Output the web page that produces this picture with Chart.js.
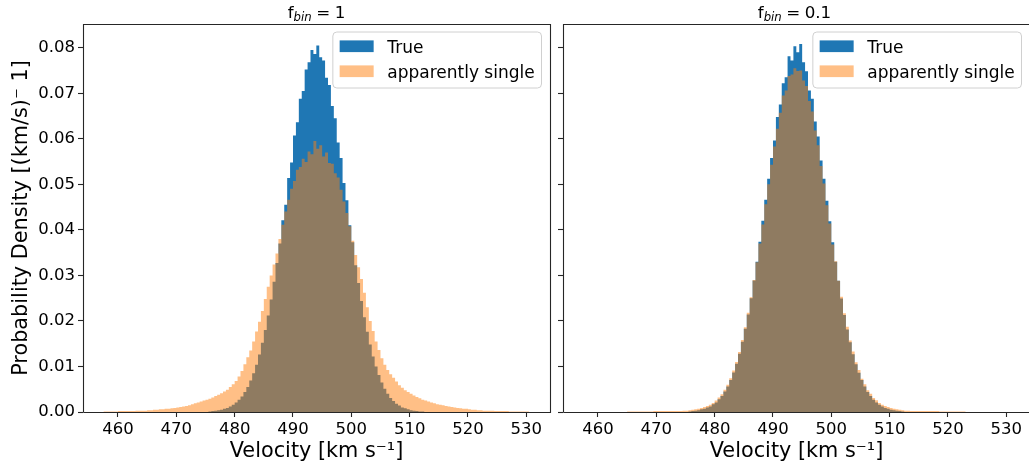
<!DOCTYPE html>
<html><head><meta charset="utf-8">
<script src="https://cdn.jsdelivr.net/npm/chart.js@4.4.1/dist/chart.umd.min.js"></script>
<style>
html,body{margin:0;padding:0;background:#fff;overflow:hidden;width:1029px;height:465px;}
#wrapL{position:absolute;left:0;top:0;width:556px;height:465px;}
#wrapR{position:absolute;left:556px;top:0;width:474px;height:465px;}
canvas{display:block;}
</style></head><body>
<div id="wrapL"><canvas id="cL" width="556" height="465"></canvas></div>
<div id="wrapR"><canvas id="cR" width="474" height="465"></canvas></div>
<script>
// ---- histogram bin grid (left edges start here, constant width) ----
const binStart = 457.5;
const binWidth = 0.5;

// ---- tick labels ----
const xTicks = [460, 470, 480, 490, 500, 510, 520, 530];
const yTicks = [0.00, 0.01, 0.02, 0.03, 0.04, 0.05, 0.06, 0.07, 0.08];
const xLabel = 'Velocity [km s\u207B\u00B9]';
const yLabel = 'Probability Density [(km/s)\u207B 1]';
const legendLabels = ['True', 'apparently single'];
const titleLeft = ['f', 'bin', '=', '1'];
const titleRight = ['f', 'bin', '=', '0.1'];

// ---- series (probability density per bin, 146 bins) ----
const leftTrue = [
0,0,0,0,0,0,0,0,0, 0,0,0,0,0,0,0,0,0, 0,0,0,0,0,0,0,0,0, 0,0,0,0,0,0,0,0,0,
0.0001,0.0002,0.0003,0.0004,0.0005,0.0007,0.0009,0.0012,0.0016,0.0021,0.0027,0.0034,0.0044,0.0055,0.0069,0.0085,0.0104,0.0126,0.0152,0.0180,0.0212,0.0247,0.0286,0.0327,0.0370,0.0421,0.0455,0.0514,0.0548,0.0607,0.0636,0.0688,0.0705,0.0752,0.0768,0.0795,0.0786,
0.0805,0.0779,0.0772,0.0734,0.0718,0.0672,0.0645,0.0592,0.0558,0.0503,0.0465,0.0410,0.0373,0.0322,0.0283,0.0244,0.0208,0.0176,0.0148,0.0122,0.0100,0.0081,0.0065,0.0051,0.0040,0.0031,0.0024,0.0018,0.0014,0.0010,0.0008,0.0006,0.0004,0.0003,0.0002,0.0001,0.0001,
0,0,0,0,0,0,0,0,0, 0,0,0,0,0,0,0,0,0, 0,0,0,0,0,0,0,0,0, 0,0,0,0,0,0,0,0,0
];
const leftSingle = [
0.0001,0.0001,0.0001,0.0001,0.0001,0.0002,0.0002,0.0002,0.0002,0.0002,0.0002,0.0003,0.0003,0.0003,0.0003,0.0004,0.0004,0.0005,0.0005,0.0006,0.0006,0.0007,0.0007,0.0008,0.0009,0.0010,0.0011,0.0012,0.0013,0.0015,0.0017,0.0019,0.0021,0.0023,0.0025,0.0027,0.0029,0.0032,0.0035,0.0038,0.0041,0.0045,0.0049,0.0055,0.0061,0.0068,0.0078,0.0090,0.0105,0.0120,0.0135,0.0155,0.0177,0.0198,0.0222,0.0248,0.0275,0.0300,0.0324,0.0348,0.0380,0.0411,0.0440,0.0466,0.0490,0.0507,0.0532,0.0538,0.0556,0.0549,0.0572,0.0566,0.0595,
0.0578,0.0586,0.0561,0.0570,0.0547,0.0545,0.0524,0.0515,0.0488,0.0462,0.0437,0.0408,0.0376,0.0345,0.0318,0.0292,0.0262,0.0230,0.0200,0.0178,0.0155,0.0136,0.0118,0.0104,0.0092,0.0083,0.0075,0.0067,0.0059,0.0053,0.0048,0.0044,0.0040,0.0036,0.0033,0.0030,0.0027,0.0025,0.0023,0.0021,0.0019,0.0017,0.0016,0.0015,0.0013,0.0012,0.0011,0.0010,0.0009,0.0008,0.0007,0.0007,0.0006,0.0005,0.0005,0.0004,0.0004,0.0003,0.0003,0.0003,0.0003,0.0002,0.0002,0.0002,0.0002,0.0002,0.0001,0.0001,0.0001,0.0001,0.0001,0.0001,0.0001
];
const rightTrue = [
0,0,0,0,0,0,0,0,0, 0,0,0,0,0,0,0,0,0, 0,0,0,0,0,0,0,0,0, 0,0,0,0,0,0,0,0,0,
0.0001,0.0002,0.0003,0.0004,0.0006,0.0007,0.0010,0.0012,0.0017,0.0021,0.0028,0.0035,0.0045,0.0056,0.0070,0.0087,0.0106,0.0128,0.0154,0.0183,0.0214,0.0250,0.0289,0.0330,0.0374,0.0420,0.0466,0.0512,0.0558,0.0596,0.0648,0.0675,0.0722,0.0735,0.0781,0.0772,0.0803,
0.0790,0.0808,0.0768,0.0748,0.0706,0.0688,0.0638,0.0605,0.0552,0.0512,0.0464,0.0419,0.0373,0.0330,0.0288,0.0249,0.0213,0.0181,0.0153,0.0127,0.0105,0.0086,0.0070,0.0056,0.0044,0.0035,0.0027,0.0021,0.0016,0.0012,0.0009,0.0007,0.0005,0.0004,0.0003,0.0002,0.0001,
0,0,0,0,0,0,0,0,0, 0,0,0,0,0,0,0,0,0, 0,0,0,0,0,0,0,0,0, 0,0,0,0,0,0,0,0,0
];
const rightSingle = [
0,0,0,0,0,0,0,0,0,0,0,0,0,0,0,
0.0001,0.0001,0.0001,0.0001,0.0001,0.0001,0.0001,0.0001,0.0001,
0.0002,0.0002,0.0002,0.0002,0.0002,0.0002,0.0002,0.0002,0.0002,
0.0002,0.0003,0.0003,0.0004,0.0005,0.0006,0.0007,0.0009,0.0011,0.0013,0.0016,0.0020,0.0025,0.0032,0.0039,0.0049,0.0060,0.0074,0.0091,0.0110,0.0132,0.0158,0.0186,0.0218,0.0252,0.0290,0.0329,0.0370,0.0412,0.0456,0.0500,0.0543,0.0583,0.0622,0.0657,0.0695,0.0706,0.0738,0.0741,0.0755,
0.0749,0.0750,0.0728,0.0716,0.0683,0.0660,0.0618,0.0586,0.0540,0.0502,0.0454,0.0414,0.0368,0.0331,0.0288,0.0253,0.0217,0.0187,0.0157,0.0133,0.0109,0.0092,0.0073,0.0061,0.0048,0.0040,0.0031,0.0026,0.0020,0.0016,0.0013,0.0011,0.0009,0.0007,0.0006,0.0005,0.0004,0.0003,0.0003,0.0002,
0.0002,0.0002,0.0002,0.0002,0.0002,0.0002,0.0002,0.0002,0.0002,
0.0001,0.0001,0.0001,0.0001,0.0001,0.0001,0.0001,0.0001,0.0001,
0,0,0,0,0,0,0,0,0,0,0,0,0,0,0
];

const FONT = "'DejaVu Sans', sans-serif";
const BLUE = '#1f77b4';
const ORANGE = 'rgba(255,127,14,0.5)';

function steps(values) {
  const pts = values.map((v, i) => ({x: binStart + i * binWidth, y: v}));
  pts.push({x: binStart + values.length * binWidth, y: 0});
  return pts;
}

const panelPlugin = {
  id: 'panel',
  afterDatasetsDraw(chart, args, o) {
    const {ctx, chartArea: a} = chart;
    ctx.save();
    ctx.strokeStyle = '#262626';
    ctx.lineWidth = 1.1;
    const L = Math.floor(a.left) + 0.5, R = Math.floor(a.right) + 0.5;
    const T = Math.floor(a.top) + 0.5, B = Math.floor(a.bottom) + 0.5;
    ctx.beginPath();
    ctx.moveTo(L, B); ctx.lineTo(L, T); ctx.lineTo(R, T);
    if (!o.skipRight) { ctx.lineTo(R, B); } else { ctx.moveTo(R, B); }
    ctx.lineTo(L, B);
    ctx.stroke();
    ctx.restore();
  },
  afterDraw(chart, args, o) {
    const {ctx, chartArea: a} = chart;
    ctx.save();
    // ---- title: f, italic subscript "bin", "=", value ----
    const fs = 16.7;
    const p = o.title;
    const gap = 4.5;
    ctx.textBaseline = 'alphabetic';
    ctx.font = fs + 'px ' + FONT;
    const w0 = ctx.measureText(p[0]).width;
    const w2 = ctx.measureText(p[2]).width;
    const w3 = ctx.measureText(p[3]).width;
    ctx.font = 'italic ' + (fs * 0.7) + 'px ' + FONT;
    const w1 = ctx.measureText(p[1]).width;
    const total = w0 + w1 + gap + w2 + gap + w3;
    const cx = (a.left + a.right) / 2 + (o.titleShift || 0);
    let tx = cx - total / 2;
    const base = 17.5;
    ctx.fillStyle = '#000';
    ctx.textAlign = 'left';
    ctx.font = fs + 'px ' + FONT;
    ctx.fillText(p[0], tx, base); tx += w0;
    ctx.font = 'italic ' + (fs * 0.7) + 'px ' + FONT;
    ctx.fillText(p[1], tx, base + 3); tx += w1 + gap;
    ctx.font = fs + 'px ' + FONT;
    ctx.fillText(p[2], tx, base); tx += w2 + gap;
    ctx.fillText(p[3], tx, base);

    // ---- legend ----
    const lf = 17;
    ctx.font = lf + 'px ' + FONT;
    const tw = Math.max(...legendLabels.map(t => ctx.measureText(t).width));
    const pad = 0.4 * lf, hl = 2 * lf, tp = 0.8 * lf;
    const bw = pad + hl + tp + tw + pad;
    const bh = 56;
    const bx = a.right - 8.5 - bw;
    const by = a.top + 8;
    const r = 4;
    ctx.beginPath();
    ctx.moveTo(bx + r, by);
    ctx.lineTo(bx + bw - r, by); ctx.arcTo(bx + bw, by, bx + bw, by + r, r);
    ctx.lineTo(bx + bw, by + bh - r); ctx.arcTo(bx + bw, by + bh, bx + bw - r, by + bh, r);
    ctx.lineTo(bx + r, by + bh); ctx.arcTo(bx, by + bh, bx, by + bh - r, r);
    ctx.lineTo(bx, by + r); ctx.arcTo(bx, by, bx + r, by, r);
    ctx.closePath();
    ctx.fillStyle = 'rgba(255,255,255,0.8)';
    ctx.fill();
    ctx.strokeStyle = '#d0d0d0';
    ctx.lineWidth = 1;
    ctx.stroke();
    const colors = [BLUE, ORANGE];
    for (let i = 0; i < 2; i++) {
      const py = by + 8.4 + i * 25;
      ctx.fillStyle = colors[i];
      ctx.fillRect(bx + pad, py, hl, 11.7);
      ctx.fillStyle = '#000';
      ctx.fillText(legendLabels[i], bx + pad + hl + tp, py + 12.3);
    }
    ctx.restore();
  }
};

function makeChart(id, trueV, singleV, isLeft) {
  const tickGrid = {display: true, drawOnChartArea: false, drawTicks: true, tickLength: 5, tickColor: '#262626', tickWidth: 1.1};
  return new Chart(document.getElementById(id), {
    type: 'line',
    data: {
      datasets: [
        {label: legendLabels[1], data: steps(singleV), stepped: true, fill: 'origin',
         backgroundColor: ORANGE, borderColor: 'rgba(0,0,0,0)', borderWidth: 0, pointRadius: 0, order: 1},
        {label: legendLabels[0], data: steps(trueV), stepped: true, fill: 'origin',
         backgroundColor: BLUE, borderColor: 'rgba(0,0,0,0)', borderWidth: 0, pointRadius: 0, order: 2}
      ]
    },
    options: {
      responsive: false, animation: false, devicePixelRatio: 1,
      layout: {padding: {top: 24, left: 0, right: isLeft ? 6 : 0, bottom: 0}},
      plugins: {
        legend: {display: false}, tooltip: {enabled: false},
        panel: {title: isLeft ? titleLeft : titleRight, skipRight: !isLeft, titleShift: isLeft ? 0 : -2}
      },
      scales: {
        x: {
          type: 'linear', min: 454.0, max: 534.06,
          afterBuildTicks: s => { s.ticks = xTicks.map(v => ({value: v})); },
          afterFit: s => { s.height = 53; },
          ticks: {autoSkip: false, maxRotation: 0, minRotation: 0, padding: 2.5, color: '#000',
                  font: {family: FONT, size: 16.5}, callback: v => String(v)},
          grid: tickGrid,
          border: {display: false},
          title: {display: true, text: xLabel, color: '#000', font: {family: FONT, size: 20.8},
                  padding: {top: 0, bottom: 1}}
        },
        y: {
          type: 'linear', min: 0, max: 0.0852,
          afterBuildTicks: s => { s.ticks = yTicks.map(v => ({value: v})); },
          afterFit: s => { s.width = isLeft ? 83 : 7; },
          ticks: {autoSkip: false, padding: 3, color: '#000', font: {family: FONT, size: 16.5},
                  callback: v => isLeft ? Number(v).toFixed(2) : ''},
          grid: tickGrid,
          border: {display: false},
          title: {display: isLeft, text: yLabel, color: '#000', font: {family: FONT, size: 20.8},
                  padding: {top: 9, bottom: 0}}
        }
      }
    },
    plugins: [panelPlugin]
  });
}

makeChart('cL', leftTrue, leftSingle, true);
makeChart('cR', rightTrue, rightSingle, false);
</script>
</body></html>
